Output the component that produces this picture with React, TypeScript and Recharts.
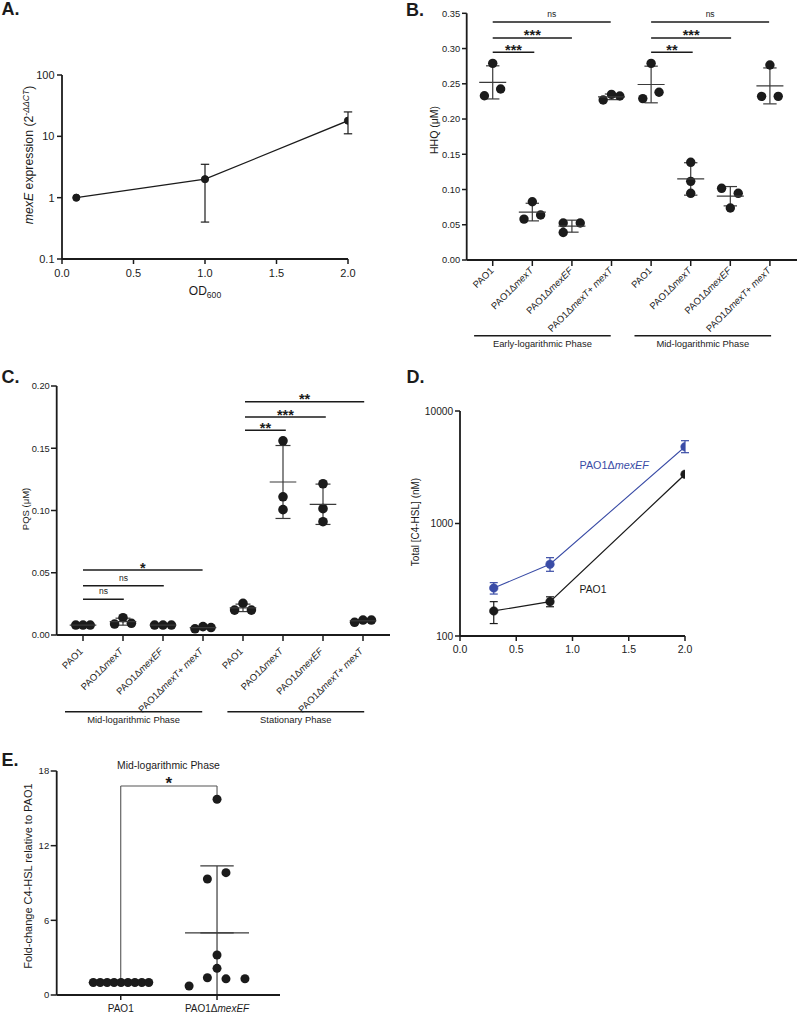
import React from 'react';
import {
  ScatterChart, Scatter, XAxis, YAxis, ErrorBar, ReferenceLine, LineChart, Line,
} from 'recharts';

const FONT = '"Liberation Sans", Arial, Helvetica, sans-serif';
const INK = '#1b1b1b';
const BAR = '#3a3a3a';
const BLUE = '#3a4ca6';

// ---------------- Panel A data ----------------
const odA = [0.1, 1.0, 2.0];
const mexEMean = [1.0, 2.0, 18.0];
const mexELow = [1.0, 0.4, 11.0];
const mexEHigh = [1.0, 3.5, 25.0];
const yTicksA = [0.1, 1, 10, 100];
const xTicksA = [0, 0.5, 1.0, 1.5, 2.0];

// ---------------- Panel B / C categories ----------------
const strains = [
  'PAO1', 'PAO1ΔmexT', 'PAO1ΔmexEF', 'PAO1ΔmexT+ mexT',
  'PAO1', 'PAO1ΔmexT', 'PAO1ΔmexEF', 'PAO1ΔmexT+ mexT',
];
const phasesB = ['Early-logarithmic  Phase', 'Mid-logarithmic Phase'];
const phasesC = ['Mid-logarithmic  Phase', 'Stationary  Phase'];

// ---------------- Panel B data (HHQ, µM) ----------------
const hhqValues = [
  [0.233, 0.279, 0.2426],
  [0.058, 0.0827, 0.0638],
  [0.0525, 0.0525, 0.039],
  [0.227, 0.235, 0.2327],
  [0.229, 0.279, 0.238],
  [0.1386, 0.1116, 0.0946],
  [0.1017, 0.0946, 0.0738],
  [0.2767, 0.2322, 0.2322],
];
const hhqJitter = [
  [-0.21, 0, 0.2],
  [-0.21, 0, 0.21],
  [-0.22, 0.21, -0.22],
  [-0.21, 0, 0.21],
  [-0.21, 0, 0.2],
  [0, 0, 0],
  [-0.22, 0.2, 0],
  [0, -0.21, 0.21],
];
const hhqMean = [0.252, 0.068, 0.048, 0.2315, 0.249, 0.115, 0.0905, 0.247];
const hhqSD = [0.0235, 0.0125, 0.0085, 0.004, 0.026, 0.023, 0.0137, 0.0255];
const hhqTicks = [0, 0.05, 0.1, 0.15, 0.2, 0.25, 0.3, 0.35];
const hhqSigs = [
  { from: 0, to: 2.98, y: 0.3377, label: 'ns' },
  { from: 0, to: 2.0, y: 0.315, label: '***' },
  { from: 0, to: 1.05, y: 0.2947, label: '***' },
  { from: 4, to: 6.98, y: 0.3377, label: 'ns' },
  { from: 4, to: 6.02, y: 0.315, label: '***' },
  { from: 4, to: 5.05, y: 0.2947, label: '**' },
];
const hhqPhaseSpans = [[-0.47, 2.98], [3.58, 7.03]];
const hhqPhaseLevel = -0.1074;

// ---------------- Panel C data (PQS, µM) ----------------
const pqsValues = [
  [0.008, 0.008, 0.008],
  [0.0088, 0.0139, 0.0094],
  [0.008, 0.008, 0.008],
  [0.005, 0.0067, 0.006],
  [0.02, 0.0254, 0.02],
  [0.156, 0.111, 0.1007],
  [0.1215, 0.1015, 0.091],
  [0.0102, 0.012, 0.012],
];
const pqsJitter = [
  [-0.18, 0, 0.18],
  [-0.21, 0, 0.21],
  [-0.21, 0, 0.21],
  [-0.2, 0, 0.2],
  [-0.21, 0, 0.21],
  [0, 0, 0],
  [0, 0, 0],
  [-0.21, 0, 0.21],
];
const pqsMean = [0.008, 0.0107, 0.008, 0.0059, 0.0218, 0.1229, 0.105, 0.0114];
const pqsSD = [0.0003, 0.0028, 0.0003, 0.0008, 0.003, 0.0293, 0.0162, 0.001];
const pqsTicks = [0, 0.05, 0.1, 0.15, 0.2];
const pqsSigs = [
  { from: 4.05, to: 7.03, y: 0.1874, label: '**' },
  { from: 4.05, to: 6.07, y: 0.1751, label: '***' },
  { from: 4.05, to: 5.07, y: 0.1644, label: '**' },
  { from: 0, to: 2.99, y: 0.0522, label: '*' },
  { from: 0, to: 2.02, y: 0.0396, label: 'ns' },
  { from: 0, to: 1.02, y: 0.0287, label: 'ns' },
];
const pqsPhaseSpans = [[-0.45, 2.98], [3.61, 7.03]];
const pqsPhaseLevel = -0.0616;

// ---------------- Panel D data (C4-HSL, nM) ----------------
const odD = [0.3, 0.8, 2.0];
const pao1C4 = [167, 202, 2737];
const pao1C4Low = [129, 182, 2737];
const pao1C4High = [202, 223, 2737];
const mexEFC4 = [267, 434, 4815];
const mexEFC4Low = [236, 376, 4260];
const mexEFC4High = [298, 497, 5445];
const yTicksD = [100, 1000, 10000];
const xTicksD = [0, 0.5, 1.0, 1.5, 2.0];

// ---------------- Panel E data (fold change) ----------------
const groupsE = ['PAO1', 'PAO1ΔmexEF'];
const pao1Fold = [1, 1, 1, 1, 1, 1, 1, 1, 1];
const pao1FoldJitter = [-0.285, -0.213, -0.141, -0.069, 0.003, 0.075, 0.147, 0.219, 0.291];
const mexEFFold = [15.73, 9.32, 9.83, 3.21, 2.14, 1.39, 1.3, 1.31, 0.72];
const mexEFFoldJitter = [0, -0.1, 0.093, 0, 0, -0.1, 0.093, 0.29, -0.29];
const foldMean = [1.0, 5.0];
const foldSD = [0, 5.37];
const yTicksE = [0, 6, 12, 18];
const bracketE = 16.8;

// ---------------- helpers ----------------
function errOf(mean: number, low: number, high: number) {
  if (low === mean && high === mean) return null;
  return [mean - low, high - mean];
}

function renderParts(name: string) {
  return name
    .split(/(mex[A-Z]+)/)
    .filter((s) => s.length > 0)
    .map((s, i) => (
      <tspan key={i} fontStyle={/^mex[A-Z]+$/.test(s) ? 'italic' : 'normal'}>{s}</tspan>
    ));
}

const RotTick = (props: any) => {
  const { x, y, payload, offX, offY, names, size } = props;
  const label = names[Math.round(payload.value)];
  if (label === undefined) return null;
  const ax = x + offX;
  const ay = y + offY;
  return (
    <text x={ax} y={ay} transform={`rotate(-45 ${ax} ${ay})`} textAnchor="end" fontSize={size} fill={INK}>
      {renderParts(label)}
    </text>
  );
};

const FlatTick = (props: any) => {
  const { x, y, payload, names, size } = props;
  const label = names[Math.round(payload.value)];
  if (label === undefined) return null;
  return (
    <text x={x} y={y} dy="0.71em" textAnchor="middle" fontSize={size} fill={INK}>
      {renderParts(label)}
    </text>
  );
};

const dotShape = (r: number, color: string) => (p: any) => (
  <circle cx={p.cx} cy={p.cy} r={r} fill={color} />
);
const meanShape = (hw: number) => (p: any) => (
  <line x1={p.cx - hw} x2={p.cx + hw} y1={p.cy} y2={p.cy} stroke={BAR} strokeWidth={1.2} />
);

const axisLine = { stroke: INK, strokeWidth: 1.8 };
const tickLine = { stroke: INK, strokeWidth: 1.5 };

type Sig = { from: number; to: number; y: number; label: string };

function sigLines(sigs: Sig[]) {
  return sigs.map((s, i) => {
    const ns = s.label === 'ns';
    return (
      <ReferenceLine
        key={'sig' + i}
        segment={[{ x: s.from, y: s.y }, { x: s.to, y: s.y }]}
        stroke={INK}
        strokeWidth={1.5}
        ifOverflow="visible"
        label={{
          value: s.label,
          position: 'top',
          offset: ns ? 5 : -2.5,
          fontSize: ns ? 8.5 : 14.5,
          fontWeight: ns ? 400 : 700,
          fill: INK,
        }}
      />
    );
  });
}

function phaseLines(spans: number[][], names: string[], level: number, offset: number) {
  return spans.map((sp, i) => (
    <ReferenceLine
      key={'ph' + i}
      segment={[{ x: sp[0], y: level }, { x: sp[1], y: level }]}
      stroke={INK}
      strokeWidth={1.4}
      ifOverflow="visible"
      label={{ value: names[i], position: 'bottom', offset, fontSize: 9.4, fill: INK }}
    />
  ));
}

// ---------------- Panels ----------------
function PanelA() {
  const data = odA.map((x, i) => ({ x, y: mexEMean[i], err: errOf(mexEMean[i], mexELow[i], mexEHigh[i]) }));
  return (
    <div style={{ position: 'absolute', left: 0, top: 0 }}>
      <LineChart width={390} height={310} data={data} margin={{ top: 75, right: 42, bottom: 21, left: 22 }}>
        <XAxis type="number" dataKey="x" domain={[0, 2]} ticks={xTicksA} allowDataOverflow interval={0}
          tickFormatter={(v: number) => v.toFixed(1)} height={30} tickSize={5} tickMargin={5}
          axisLine={axisLine} tickLine={tickLine} tick={{ fill: INK, fontSize: 11 }} />
        <YAxis type="number" scale="log" domain={[0.1, 100]} ticks={yTicksA} allowDataOverflow interval={0}
          tickFormatter={(v: number) => String(v)} width={40} tickSize={5} tickMargin={2.5}
          axisLine={axisLine} tickLine={tickLine} tick={{ fill: INK, fontSize: 11 }} />
        <Line type="linear" dataKey="y" stroke={INK} strokeWidth={1.3} isAnimationActive={false}
          dot={{ r: 3.6, fill: INK, stroke: INK, strokeWidth: 1 }} activeDot={false}>
          <ErrorBar dataKey="err" direction="y" width={4.2} stroke={INK} strokeWidth={1.2} />
        </Line>
      </LineChart>
    </div>
  );
}

function GroupPlot(props: {
  left: number; top: number; width: number; height: number;
  margin: { top: number; right: number; bottom: number; left: number };
  xAxisHeight: number; xDomain: number[]; yDomain: number[]; yTicks: number[];
  values: number[][]; jitter: number[][]; means: number[]; sds: number[];
  sigs: Sig[]; spans: number[][]; phases: string[]; level: number; phaseOffset: number;
  offX: number; offY: number; r: number; meanHW: number; capHW: number;
  tickSize: number; tickMargin: number;
}) {
  const points = props.values.flatMap((g, i) => g.map((v, j) => ({ x: i + props.jitter[i][j], y: v })));
  const stats = props.means.map((m, i) => ({ x: i, y: m, sd: props.sds[i] }));
  return (
    <div style={{ position: 'absolute', left: props.left, top: props.top }}>
      <ScatterChart width={props.width} height={props.height} margin={props.margin}>
        <XAxis type="number" dataKey="x" domain={props.xDomain} ticks={[0, 1, 2, 3, 4, 5, 6, 7]}
          allowDataOverflow interval={0} height={props.xAxisHeight} tickSize={6} tickMargin={2}
          axisLine={axisLine} tickLine={tickLine}
          tick={(p: any) => <RotTick {...p} offX={props.offX} offY={props.offY} names={strains} size={9.5} />} />
        <YAxis type="number" dataKey="y" domain={props.yDomain} ticks={props.yTicks} allowDataOverflow interval={0}
          tickFormatter={(v: number) => v.toFixed(2)} width={40} tickSize={props.tickSize} tickMargin={props.tickMargin}
          axisLine={axisLine} tickLine={tickLine} tick={{ fill: INK, fontSize: 9.3 }} />
        <Scatter data={points} shape={dotShape(props.r, INK)} isAnimationActive={false} />
        <Scatter data={stats} shape={meanShape(props.meanHW)} isAnimationActive={false}>
          <ErrorBar dataKey="sd" direction="y" width={props.capHW} stroke={BAR} strokeWidth={1.2} />
        </Scatter>
        {sigLines(props.sigs)}
        {phaseLines(props.spans, props.phases, props.level, props.phaseOffset)}
      </ScatterChart>
    </div>
  );
}

function PanelB() {
  return (
    <GroupPlot left={400} top={0} width={397} height={352}
      margin={{ top: 13.3, right: 0, bottom: 0, left: 26.7 }} xAxisHeight={92}
      xDomain={[-0.657, 7.684]} yDomain={[0, 0.35]} yTicks={hhqTicks}
      values={hhqValues} jitter={hhqJitter} means={hhqMean} sds={hhqSD}
      sigs={hhqSigs} spans={hhqPhaseSpans} phases={phasesB} level={hhqPhaseLevel} phaseOffset={5}
      offX={1.5} offY={3.2} r={4.7} meanHW={13.5} capHW={6.7} tickSize={4.7} tickMargin={1.8} />
  );
}

function PanelC() {
  return (
    <GroupPlot left={0} top={340} width={400} height={392}
      margin={{ top: 46, right: 10, bottom: 0, left: 16.7 }} xAxisHeight={97}
      xDomain={[-0.6575, 7.675]} yDomain={[0, 0.2]} yTicks={pqsTicks}
      values={pqsValues} jitter={pqsJitter} means={pqsMean} sds={pqsSD}
      sigs={pqsSigs} spans={pqsPhaseSpans} phases={phasesC} level={pqsPhaseLevel} phaseOffset={4.3}
      offX={0.5} offY={9} r={4.8} meanHW={13.3} capHW={7.5} tickSize={5.7} tickMargin={1.2} />
  );
}

function PanelD() {
  const pao1 = odD.map((x, i) => ({ x, y: pao1C4[i], err: errOf(pao1C4[i], pao1C4Low[i], pao1C4High[i]) }));
  const mexEF = odD.map((x, i) => ({ x, y: mexEFC4[i], err: errOf(mexEFC4[i], mexEFC4Low[i], mexEFC4High[i]) }));
  return (
    <div style={{ position: 'absolute', left: 400, top: 380 }}>
      <LineChart width={397} height={290} margin={{ top: 31, right: 112, bottom: 4, left: 15 }}>
        <XAxis type="number" dataKey="x" domain={[0, 2]} ticks={xTicksD} allowDataOverflow interval={0}
          tickFormatter={(v: number) => v.toFixed(1)} height={30} tickSize={5} tickMargin={4.5}
          axisLine={axisLine} tickLine={tickLine} tick={{ fill: INK, fontSize: 10.5 }} />
        <YAxis type="number" dataKey="y" scale="log" domain={[100, 10000]} ticks={yTicksD} allowDataOverflow interval={0}
          tickFormatter={(v: number) => String(v)} width={45} tickSize={5} tickMargin={1.8}
          axisLine={axisLine} tickLine={tickLine} tick={{ fill: INK, fontSize: 10.2 }} />
        <Line data={pao1} type="linear" dataKey="y" stroke={INK} strokeWidth={1.2} isAnimationActive={false}
          dot={{ r: 4.3, fill: INK, stroke: INK, strokeWidth: 0.5 }} activeDot={false}>
          <ErrorBar dataKey="err" direction="y" width={4} stroke={INK} strokeWidth={1.2} />
        </Line>
        <Line data={mexEF} type="linear" dataKey="y" stroke={BLUE} strokeWidth={1.1} isAnimationActive={false}
          dot={{ r: 4.3, fill: BLUE, stroke: BLUE, strokeWidth: 0.5 }} activeDot={false}>
          <ErrorBar dataKey="err" direction="y" width={4} stroke={BLUE} strokeWidth={1.2} />
        </Line>
      </LineChart>
    </div>
  );
}

function PanelE() {
  const pts0 = pao1Fold.map((v, j) => ({ x: 0 + pao1FoldJitter[j], y: v }));
  const pts1 = mexEFFold.map((v, j) => ({ x: 1 + mexEFFoldJitter[j], y: v }));
  // upper SD whisker drawn as error bar; lower whisker runs down to the axis
  const stats = foldMean.map((m, i) => ({ x: i, y: m, sd: [0, foldSD[i]] }));
  return (
    <div style={{ position: 'absolute', left: 0, top: 740 }}>
      <ScatterChart width={400} height={273} margin={{ top: 31, right: 120, bottom: 0, left: 16.7 }}>
        <XAxis type="number" dataKey="x" domain={[-0.665, 1.654]} ticks={[0, 1]} allowDataOverflow interval={0}
          height={18} tickSize={5} tickMargin={5} axisLine={axisLine} tickLine={tickLine}
          tick={(p: any) => <FlatTick {...p} names={groupsE} size={10} />} />
        <YAxis type="number" dataKey="y" domain={[0, 18]} ticks={yTicksE} allowDataOverflow interval={0}
          width={40} tickSize={6} tickMargin={1.5} axisLine={axisLine} tickLine={tickLine}
          tick={{ fill: INK, fontSize: 9.5 }} />
        <ReferenceLine segment={[{ x: 0, y: bracketE }, { x: 0, y: pao1Fold[0] }]} stroke="#555" strokeWidth={1.1} ifOverflow="visible" />
        <ReferenceLine segment={[{ x: 1, y: bracketE }, { x: 1, y: mexEFFold[0] }]} stroke="#555" strokeWidth={1.1} ifOverflow="visible" />
        <ReferenceLine segment={[{ x: 0, y: bracketE }, { x: 1, y: bracketE }]} stroke="#555" strokeWidth={1.1} ifOverflow="visible"
          label={{ value: '*', position: 'top', offset: -3, fontSize: 17, fontWeight: 700, fill: INK }} />
        <ReferenceLine segment={[{ x: 1, y: foldMean[1] }, { x: 1, y: 0 }]} stroke={BAR} strokeWidth={1.2} ifOverflow="visible" />
        <Scatter data={stats} shape={meanShape(32)} isAnimationActive={false}>
          <ErrorBar dataKey="sd" direction="y" width={16.7} stroke={BAR} strokeWidth={1.2} />
        </Scatter>
        <Scatter data={pts0} shape={dotShape(4.5, INK)} isAnimationActive={false} />
        <Scatter data={pts1} shape={dotShape(4.5, INK)} isAnimationActive={false} />
      </ScatterChart>
    </div>
  );
}

function Overlay() {
  return (
    <svg width={797} height={1013} style={{ position: 'absolute', left: 0, top: 0, pointerEvents: 'none' }}>
      <g fill={INK} fontWeight={700} fontSize={18}>
        <text x={1.5} y={15}>A.</text>
        <text x={406} y={15.5}>B.</text>
        <text x={1.5} y={383.3}>C.</text>
        <text x={406.5} y={382.7}>D.</text>
        <text x={1.5} y={766}>E.</text>
      </g>
      <g fill={INK}>
        <text transform="translate(33,155) rotate(-90)" textAnchor="middle" fontSize={12.3}>
          <tspan fontStyle="italic">mexE</tspan> expression (2
          <tspan fontSize={8.6} dy={-4.5} fontStyle="italic">-ΔΔCT</tspan>
          <tspan dy={4.5}>)</tspan>
        </text>
        <text x={205} y={295} textAnchor="middle" fontSize={12}>
          OD<tspan fontSize={8.6} dy={3}>600</tspan>
        </text>
        <text transform="translate(437.5,130) rotate(-90)" textAnchor="middle" fontSize={10.5}>HHQ (μM)</text>
        <text transform="translate(28.5,509) rotate(-90)" textAnchor="middle" fontSize={9.5}>PQS (μM)</text>
        <text transform="translate(418.6,522) rotate(-90)" textAnchor="middle" fontSize={10}>Total [C4-HSL] (nM)</text>
        <text x={579.5} y={469.3} fontSize={10.8} fill={BLUE}>
          PAO1Δ<tspan fontStyle="italic">mexEF</tspan>
        </text>
        <text x={579.5} y={592.7} fontSize={10.4}>PAO1</text>
        <text transform="translate(32.3,876) rotate(-90)" textAnchor="middle" fontSize={11}>Fold-change C4-HSL relative to PAO1</text>
        <text x={168.5} y={768.7} textAnchor="middle" fontSize={10.4}>Mid-logarithmic Phase</text>
      </g>
    </svg>
  );
}

export default function App() {
  return (
    <div style={{ position: 'absolute', left: 0, top: 0, width: 797, height: 1013, background: '#fff', fontFamily: FONT, overflow: 'hidden' }}>
      <PanelA />
      <PanelB />
      <PanelC />
      <PanelD />
      <PanelE />
      <Overlay />
    </div>
  );
}
